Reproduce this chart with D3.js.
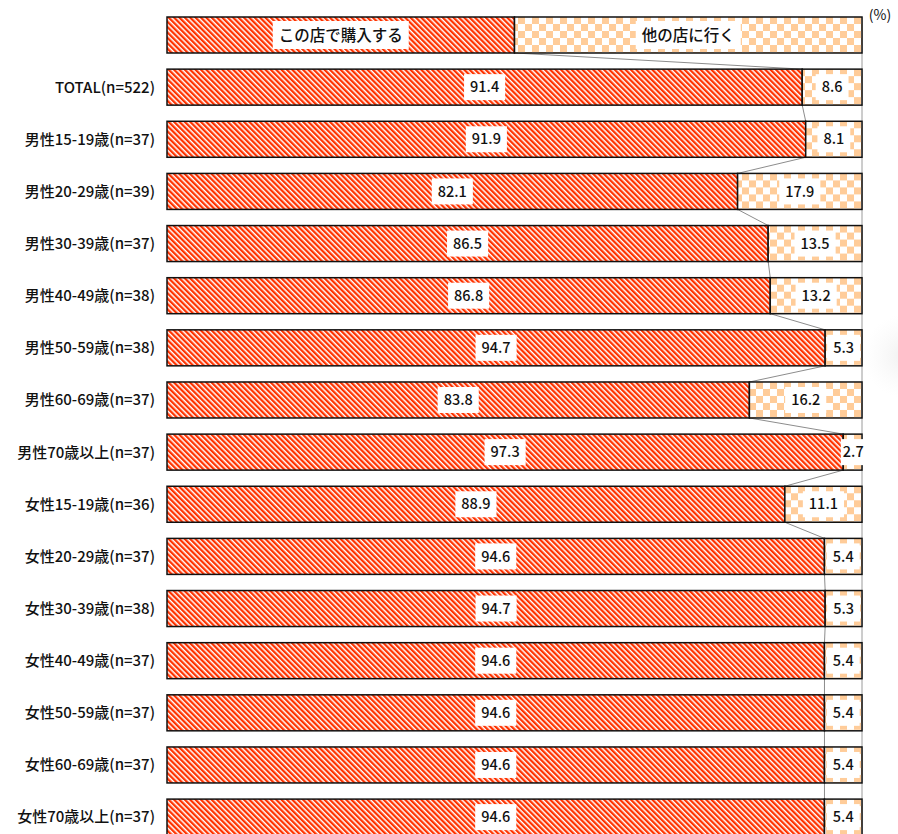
<!DOCTYPE html>
<html>
<head>
<meta charset="utf-8">
<script src="https://cdn.jsdelivr.net/npm/d3@7"></script>
<style>
  html, body { margin: 0; padding: 0; background: #fff; }
  svg { display: block; }
  text { font-family: "Noto Sans CJK JP", "Noto Sans", sans-serif; }
</style>
</head>
<body>
<svg id="chart" width="898" height="834"></svg>
<script>
// Categories (first row is the legend bar)
const legendLabels = ["この店で購入する", "他の店に行く"];
const categories = [
  "TOTAL(n=522)",
  "男性15-19歳(n=37)",
  "男性20-29歳(n=39)",
  "男性30-39歳(n=37)",
  "男性40-49歳(n=38)",
  "男性50-59歳(n=38)",
  "男性60-69歳(n=37)",
  "男性70歳以上(n=37)",
  "女性15-19歳(n=36)",
  "女性20-29歳(n=37)",
  "女性30-39歳(n=38)",
  "女性40-49歳(n=37)",
  "女性50-59歳(n=37)",
  "女性60-69歳(n=37)",
  "女性70歳以上(n=37)"
];
const buyHere = [91.4, 91.9, 82.1, 86.5, 86.8, 94.7, 83.8, 97.3, 88.9, 94.6, 94.7, 94.6, 94.6, 94.6, 94.6];
const goElsewhere = [8.6, 8.1, 17.9, 13.5, 13.2, 5.3, 16.2, 2.7, 11.1, 5.4, 5.3, 5.4, 5.4, 5.4, 5.4];
const unitLabel = "(%)";

const svg = d3.select("#chart");
const defs = svg.append("defs");

// Diagonal red stripes
const sp = 3.8;
const stripe = defs.append("pattern")
  .attr("id", "stripe").attr("patternUnits", "userSpaceOnUse")
  .attr("width", sp).attr("height", sp)
  .attr("patternTransform", "rotate(-45)");
stripe.append("rect").attr("width", sp).attr("height", sp).attr("fill", "#fff");
stripe.append("rect").attr("width", 2.3).attr("height", sp).attr("fill", "#ff3300");

// Light orange checkerboard
const cs = 7;
const checker = defs.append("pattern")
  .attr("id", "checker").attr("patternUnits", "userSpaceOnUse")
  .attr("width", cs * 2).attr("height", cs * 2).attr("x", 0).attr("y", 0);
checker.append("rect").attr("width", cs * 2).attr("height", cs * 2).attr("fill", "#fff");
checker.append("rect").attr("width", cs).attr("height", cs).attr("fill", "#ffcc99");
checker.append("rect").attr("x", cs).attr("y", cs).attr("width", cs).attr("height", cs).attr("fill", "#ffcc99");

// Soft shade near the right edge
const glow = defs.append("radialGradient").attr("id", "glow");
glow.append("stop").attr("offset", "0%").attr("stop-color", "#e6e6e6").attr("stop-opacity", 0.6);
glow.append("stop").attr("offset", "100%").attr("stop-color", "#f2f2f2").attr("stop-opacity", 0);
svg.append("circle").attr("cx", 905).attr("cy", 356).attr("r", 42).attr("fill", "url(#glow)");

const rows = [{ label: null, a: 50, b: 50, legend: true }]
  .concat(categories.map((c, i) => ({ label: c, a: buyHere[i], b: goElsewhere[i], legend: false })));

const x = d3.scaleLinear().domain([0, 100]).range([167, 862]);
const y = d3.scaleBand().domain(d3.range(rows.length))
  .range([17, 17 + rows.length * 52.14 - 16.14]).paddingInner(0.3096).paddingOuter(0);
const bh = y.bandwidth();

// Right-hand 100% line
svg.append("line")
  .attr("x1", x(100)).attr("x2", x(100))
  .attr("y1", y(0)).attr("y2", 834)
  .attr("stroke", "#9a9a9a").attr("stroke-width", 1);

// Series lines between segment boundaries
for (let i = 0; i < rows.length - 1; i++) {
  svg.append("line")
    .attr("x1", x(rows[i].a)).attr("y1", y(i) + bh)
    .attr("x2", x(rows[i + 1].a)).attr("y2", y(i + 1))
    .attr("stroke", "#6e6e6e").attr("stroke-width", 0.8);
}

const g = svg.selectAll("g.row").data(rows).join("g").attr("class", "row")
  .attr("transform", (d, i) => `translate(0,${y(i)})`);

g.append("rect")
  .attr("x", x(0)).attr("y", 0)
  .attr("width", d => x(d.a) - x(0)).attr("height", bh)
  .attr("fill", "url(#stripe)").attr("stroke", "#111").attr("stroke-width", 1.5);
g.append("rect")
  .attr("x", d => x(d.a)).attr("y", 0)
  .attr("width", d => x(100) - x(d.a)).attr("height", bh)
  .attr("fill", "url(#checker)").attr("stroke", "#111").attr("stroke-width", 1.5);

// Boxed labels
function boxedLabel(sel, cx, text, size, padX, boxH) {
  const t = sel.append("text")
    .attr("x", cx).attr("y", bh / 2).attr("dy", "0.36em")
    .attr("text-anchor", "middle").attr("font-size", size)
    .attr("font-weight", 500).attr("fill", "#111").text(text);
  const w = t.node().getComputedTextLength();
  sel.insert("rect", () => t.node())
    .attr("x", cx - w / 2 - padX).attr("y", bh / 2 - boxH / 2)
    .attr("width", w + padX * 2).attr("height", boxH).attr("fill", "#fff");
}

g.each(function (d) {
  const s = d3.select(this);
  if (d.legend) {
    boxedLabel(s, (x(0) + x(d.a)) / 2, legendLabels[0], 15.5, 6, 28);
    boxedLabel(s, (x(d.a) + x(100)) / 2, legendLabels[1], 15.5, 6, 28);
  } else {
    boxedLabel(s, (x(0) + x(d.a)) / 2, d3.format(".1f")(d.a), 14.5, 6, 26);
    let cb = (x(d.a) + x(100)) / 2;
    if (d.b < 4) cb = x(d.a) + 10;
    boxedLabel(s, cb, d3.format(".1f")(d.b), 14.5, d.b < 4 ? 2 : 6, 26);
    s.append("text")
      .attr("x", 155).attr("y", bh / 2).attr("dy", "0.36em")
      .attr("text-anchor", "end").attr("font-size", 15).attr("font-weight", 500)
      .attr("fill", "#111").text(d.label);
  }
});

svg.append("text").attr("x", 880).attr("y", 20).attr("text-anchor", "middle")
  .attr("font-size", 14).attr("fill", "#111").text(unitLabel);
</script>
</body>
</html>
